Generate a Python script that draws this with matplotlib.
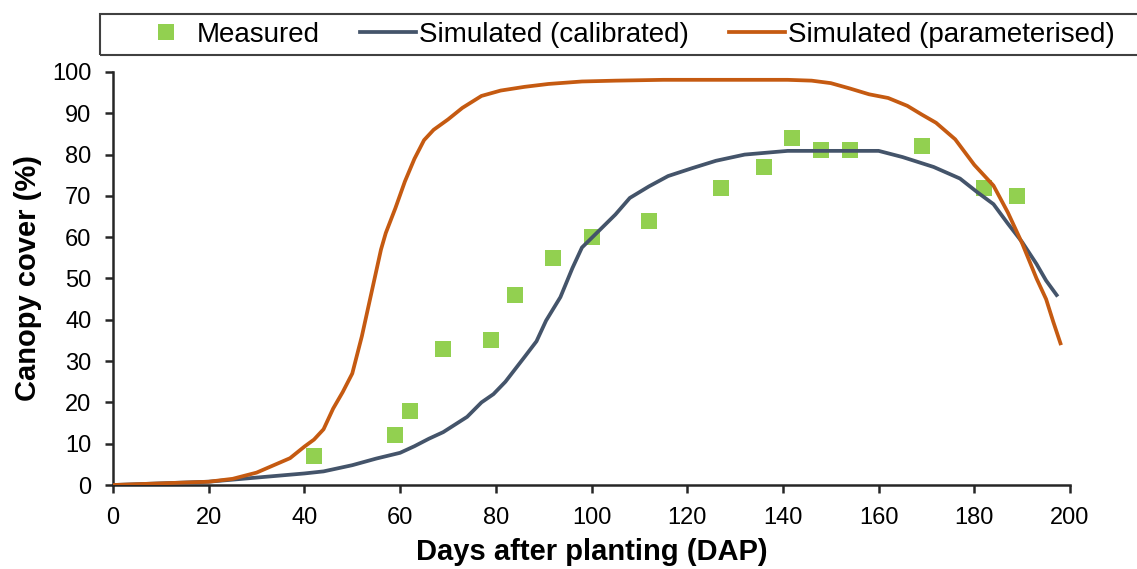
import matplotlib
matplotlib.use('Agg')
import matplotlib.pyplot as plt
from matplotlib.patches import Rectangle
from matplotlib.lines import Line2D

plt.rcParams['font.family'] = ['Liberation Sans', 'DejaVu Sans']

# measured canopy cover
meas_day = [42, 59, 62, 69, 79, 84, 92, 100, 112, 127, 136, 142, 148, 154, 169, 182, 189]
meas_cc = [7, 12, 18, 33, 35, 46, 55, 60, 64, 72, 77, 84, 81, 81, 82, 72, 70]

# simulated (calibrated)
cal_day = [0, 20, 32, 40, 44, 50, 55, 60, 63, 66, 69, 74, 77, 79.5, 82, 86, 88.5, 90.5,
           93.5, 96, 98, 101.5, 105, 108, 112, 116, 121, 126, 132, 141, 160, 165, 171.5,
           177, 180.5, 184, 187, 190, 193, 195, 197.2]
cal_cc = [0, 0.8, 2, 2.8, 3.3, 4.8, 6.4, 7.8, 9.4, 11.2, 12.8, 16.5, 20, 22, 25, 31, 34.8, 39.8,
          45.5, 52.5, 57.5, 61.5, 65.5, 69.5, 72.3, 74.8, 76.7, 78.5, 80, 80.9, 80.9, 79.4, 77,
          74.2, 71, 68, 63.3, 58.8, 53.5, 49.5, 46]

# simulated (parameterised)
par_day = [0, 10, 20, 25, 30, 34, 37, 40, 42, 44, 46, 48, 50, 52, 54, 56, 57, 59, 61, 63, 65,
           67, 70, 73, 77, 81, 86, 91, 98, 105, 115, 130, 141, 146, 150, 154, 158, 162, 166,
           169, 172, 176, 180, 184, 187, 190, 193, 195, 196.5, 198]
par_cc = [0, 0.4, 0.8, 1.5, 3, 5, 6.5, 9.3, 11, 13.5, 18.5, 22.5, 27, 36, 46.5, 57, 61, 67,
          73.5, 79, 83.5, 86, 88.5, 91.3, 94.2, 95.5, 96.4, 97.1, 97.7, 97.9, 98.1, 98.1, 98.1,
          97.9, 97.3, 96, 94.6, 93.7, 91.8, 89.7, 87.7, 83.7, 77.5, 72.5, 66, 58.5, 50, 45,
          39.5, 34.3]

green = '#92D050'
blue = '#44546A'
orange = '#C55A11'
axcol = '#262626'

fig = plt.figure(figsize=(11.37, 5.69), dpi=100)
ax = fig.add_axes([0.0994, 0.1476, 0.8417, 0.7259])

ax.plot(meas_day, meas_cc, 's', color=green, markersize=12, markeredgewidth=0, zorder=2)
ax.plot(cal_day, cal_cc, '-', color=blue, linewidth=2.7, zorder=3)
ax.plot(par_day, par_cc, '-', color=orange, linewidth=2.7, zorder=3)

ax.set_xlim(0, 200)
ax.set_ylim(0, 100)
ax.set_xticks(range(0, 201, 20))
ax.set_yticks(range(0, 101, 10))
for s in ['top', 'right']:
    ax.spines[s].set_visible(False)
for s in ['left', 'bottom']:
    ax.spines[s].set_color(axcol)
    ax.spines[s].set_linewidth(1.8)
ax.tick_params(direction='out', length=5.5, width=1.8, color=axcol, labelsize=17,
               labelcolor='black')
ax.tick_params(axis='x', pad=10)
ax.tick_params(axis='y', pad=10)

ax.set_xlabel('Days after planting (DAP)', fontsize=21, fontweight='bold', labelpad=7)
ax.set_ylabel('Canopy cover (%)', fontsize=21, fontweight='bold', labelpad=7)

# legend box along the top
fig.patches.append(Rectangle((100 / 1137, 1 - 55 / 569), 1040 / 1137, 41 / 569,
                             transform=fig.transFigure, fill=False,
                             edgecolor='#404040', linewidth=1.5))
handles = [Line2D([], [], marker='s', linestyle='none', color=green, markersize=12,
                  markeredgewidth=0),
           Line2D([], [], color=blue, linewidth=2.7),
           Line2D([], [], color=orange, linewidth=2.7)]
labels = ['Measured', 'Simulated (calibrated)', 'Simulated (parameterised)']
fig.legend(handles, labels, loc='center left', bbox_to_anchor=(138 / 1137, 1 - 34.5 / 569),
           ncol=3, frameon=False, fontsize=20, handlelength=2.0, handletextpad=0.12,
           columnspacing=1.45, borderaxespad=0, borderpad=0)

fig.savefig('out.png', dpi=100)
